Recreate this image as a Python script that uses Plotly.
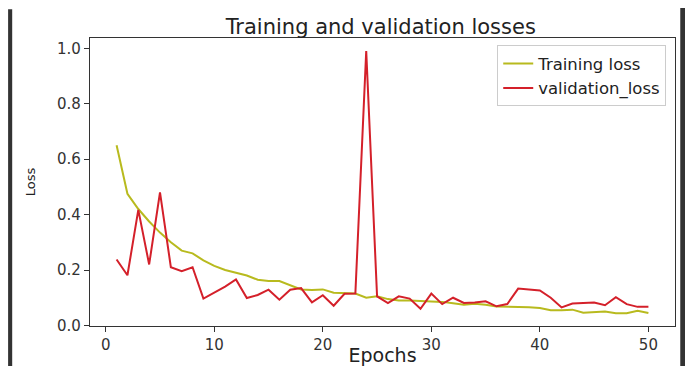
import plotly.graph_objects as go

epochs = list(range(1, 51))
training_loss = [0.65, 0.475, 0.42, 0.375, 0.335, 0.30, 0.27, 0.26, 0.235, 0.215,
                 0.20, 0.19, 0.18, 0.165, 0.16, 0.16, 0.145, 0.13, 0.128, 0.13,
                 0.118, 0.117, 0.115, 0.10, 0.105, 0.095, 0.09, 0.09, 0.088, 0.087,
                 0.085, 0.08, 0.075, 0.078, 0.075, 0.068, 0.068, 0.066, 0.066, 0.063,
                 0.055, 0.055, 0.057, 0.046, 0.048, 0.05, 0.044, 0.044, 0.053, 0.045]
validation_loss = [0.238, 0.181, 0.417, 0.22, 0.48, 0.21, 0.196, 0.21, 0.097, 0.117,
                   0.14, 0.166, 0.099, 0.11, 0.129, 0.093, 0.129, 0.135, 0.083, 0.109,
                   0.071, 0.114, 0.115, 0.99, 0.105, 0.081, 0.105, 0.097, 0.06, 0.115,
                   0.077, 0.10, 0.081, 0.083, 0.087, 0.069, 0.077, 0.133, 0.129, 0.126,
                   0.10, 0.065, 0.079, 0.081, 0.083, 0.073, 0.102, 0.077, 0.067, 0.067]
x_ticks = [0, 10, 20, 30, 40, 50]
y_ticks = [0.0, 0.2, 0.4, 0.6, 0.8, 1.0]

font = "DejaVu Sans"
fig = go.Figure()
fig.add_trace(go.Scatter(x=epochs, y=training_loss, mode="lines", name="Training loss",
                         line=dict(color="#b8ba1e", width=2)))
fig.add_trace(go.Scatter(x=epochs, y=validation_loss, mode="lines", name="validation_loss",
                         line=dict(color="#d4202a", width=2)))

axis_common = dict(showline=True, mirror=True, linecolor="#333333", linewidth=1.2,
                   ticks="outside", ticklen=5, tickcolor="#333333", showgrid=False,
                   zeroline=False, automargin=False,
                   tickfont=dict(family=font, size=15, color="#333333"))

# page body has an 8px margin, so the figure is 8px smaller and margins shifted
fig.update_layout(
    width=685, height=358,
    margin=dict(l=82, r=18, t=30, b=40),
    paper_bgcolor="white", plot_bgcolor="white",
    title=dict(text="Training and validation losses", x=0.497, xref="paper", xanchor="center",
               y=0.948, yanchor="middle",
               font=dict(family=font, size=21, color="#222222")),
    xaxis=dict(range=[-1.45, 52.45], tickvals=x_ticks,
               title=dict(text="Epochs", standoff=5, font=dict(family=font, size=19, color="#222222")),
               **axis_common),
    yaxis=dict(range=[-0.002, 1.037], tickvals=y_ticks, tickformat=".1f",
               title=dict(text="Loss", standoff=18, font=dict(family=font, size=13, color="#222222")),
               **axis_common),
    legend=dict(x=0.985, y=0.975, xanchor="right", yanchor="top",
                bgcolor="rgba(255,255,255,0.9)", bordercolor="#cccccc", borderwidth=1,
                font=dict(family=font, size=16.5, color="#222222"), tracegroupgap=0),
    showlegend=True,
    shapes=[
        dict(type="rect", xref="paper", yref="paper", x0=-0.140, x1=-0.133, y0=-0.15, y1=1.10,
             fillcolor="#333333", line=dict(width=0)),
        dict(type="rect", xref="paper", yref="paper", x0=1.009, x1=1.04, y0=-0.15, y1=1.13,
             fillcolor="#333333", line=dict(width=0)),
    ],
)

fig.write_html("out.html")
